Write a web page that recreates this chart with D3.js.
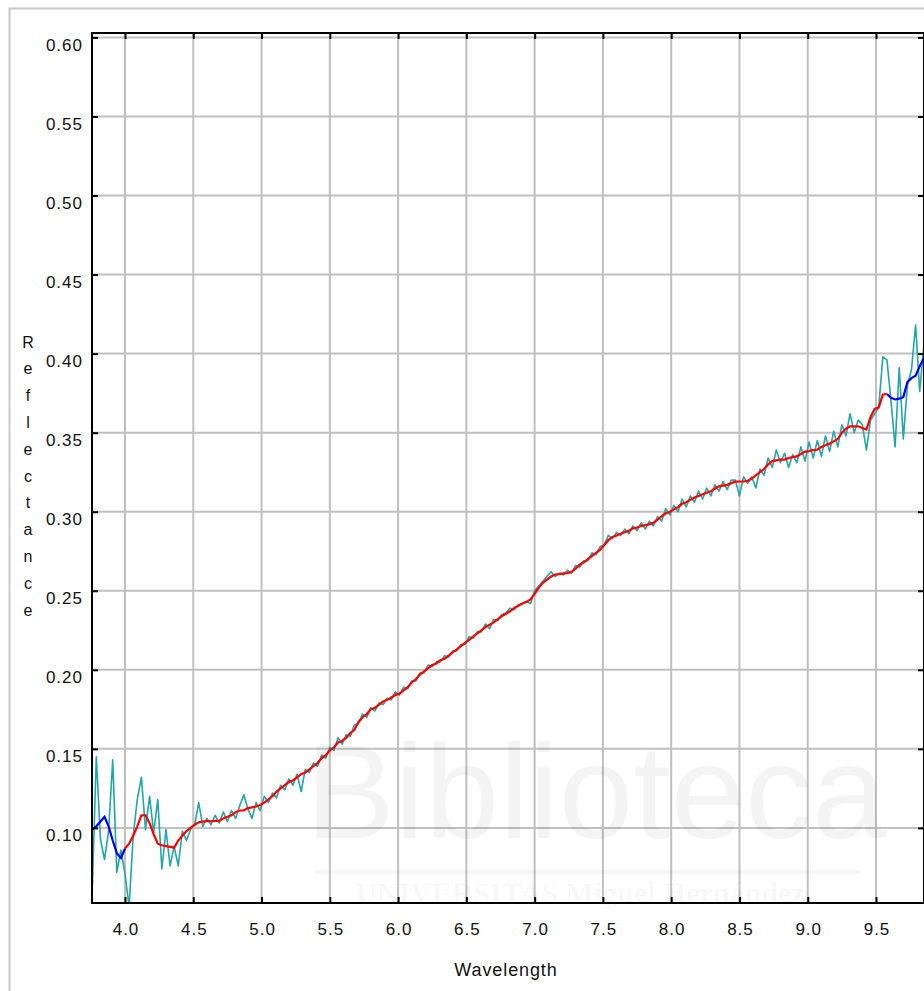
<!DOCTYPE html>
<html><head><meta charset="utf-8">
<script src="https://cdn.jsdelivr.net/npm/d3@7"></script>
<style>html,body{margin:0;padding:0;background:#fff;}svg{display:block;}</style>
</head><body>
<svg id="chart" width="924" height="991"></svg>
<script>
// ---------- data ----------
const wavelength = [3.76,3.79,3.82,3.85,3.88,3.91,3.94,3.97,4.00,4.03,4.06,4.09,4.12,4.15,4.18,4.21,4.24,4.27,4.30,4.33,4.36,4.39,4.42,4.45,4.48,4.51,4.54,4.57,4.60,4.63,4.66,4.69,4.72,4.75,4.78,4.81,4.84,4.87,4.90,4.93,4.96,4.99,5.02,5.05,5.08,5.11,5.14,5.17,5.20,5.23,5.26,5.29,5.32,5.35,5.38,5.41,5.44,5.47,5.50,5.53,5.56,5.59,5.62,5.65,5.68,5.71,5.74,5.77,5.80,5.83,5.86,5.89,5.92,5.95,5.98,6.01,6.04,6.07,6.10,6.13,6.16,6.19,6.22,6.25,6.28,6.31,6.34,6.37,6.40,6.43,6.46,6.49,6.52,6.55,6.58,6.61,6.64,6.67,6.70,6.73,6.76,6.79,6.82,6.85,6.88,6.91,6.94,6.97,7.00,7.03,7.06,7.09,7.12,7.15,7.18,7.21,7.24,7.27,7.30,7.33,7.36,7.39,7.42,7.45,7.48,7.51,7.54,7.57,7.60,7.63,7.66,7.69,7.72,7.75,7.78,7.81,7.84,7.87,7.90,7.93,7.96,7.99,8.02,8.05,8.08,8.11,8.14,8.17,8.20,8.23,8.26,8.29,8.32,8.35,8.38,8.41,8.44,8.47,8.50,8.53,8.56,8.59,8.62,8.65,8.68,8.71,8.74,8.77,8.80,8.83,8.86,8.89,8.92,8.95,8.98,9.01,9.04,9.07,9.10,9.13,9.16,9.19,9.22,9.25,9.28,9.31,9.34,9.37,9.40,9.43,9.46,9.49,9.52,9.55,9.58,9.61,9.64,9.67,9.70,9.73,9.76,9.79,9.82,9.85];

const rawReflectance = [0.060,0.145,0.093,0.080,0.098,0.143,0.072,0.086,0.071,0.050,
0.095,0.118,0.132,0.099,0.120,0.097,0.118,0.074,0.099,0.076,
0.088,0.076,0.098,0.092,0.099,0.102,0.116,0.101,0.106,0.102,
0.108,0.103,0.110,0.104,0.111,0.106,0.114,0.121,0.112,0.106,
0.116,0.111,0.120,0.116,0.122,0.119,0.127,0.124,0.131,0.127,
0.134,0.123,0.137,0.135,0.141,0.139,0.146,0.144,0.151,0.149,
0.157,0.153,0.159,0.158,0.165,0.166,0.172,0.170,0.176,0.174,
0.179,0.178,0.182,0.181,0.186,0.184,0.189,0.188,0.193,0.193,
0.198,0.198,0.203,0.202,0.205,0.205,0.209,0.208,0.212,0.212,
0.216,0.216,0.221,0.220,0.224,0.224,0.229,0.226,0.232,0.231,
0.235,0.236,0.239,0.238,0.241,0.242,0.243,0.242,0.250,0.253,
0.256,0.259,0.262,0.259,0.261,0.260,0.263,0.261,0.266,0.265,
0.269,0.269,0.274,0.273,0.278,0.279,0.285,0.283,0.287,0.285,
0.289,0.286,0.291,0.288,0.293,0.289,0.294,0.291,0.297,0.294,
0.302,0.298,0.304,0.300,0.308,0.303,0.310,0.306,0.313,0.308,
0.315,0.310,0.317,0.313,0.319,0.314,0.320,0.320,0.310,0.322,
0.318,0.322,0.315,0.327,0.323,0.334,0.328,0.339,0.331,0.337,
0.328,0.336,0.331,0.341,0.332,0.344,0.334,0.345,0.335,0.348,
0.338,0.351,0.341,0.355,0.348,0.362,0.350,0.358,0.355,0.339,
0.358,0.362,0.366,0.398,0.396,0.370,0.341,0.391,0.346,0.380,
0.390,0.418,0.376,0.405];

const smoothReflectance = [0.099,0.101,0.104,0.107,0.101,0.092,0.084,0.081,0.087,0.090,
0.095,0.101,0.108,0.108,0.103,0.096,0.090,0.089,0.0885,0.088,
0.0875,0.092,0.095,0.098,0.100,0.102,0.1035,0.104,0.1044,0.1042,
0.1045,0.1045,0.106,0.107,0.108,0.110,0.111,0.111,0.1125,0.113,
0.1135,0.1145,0.116,0.118,0.120,0.123,0.125,0.127,0.129,0.130,
0.132,0.134,0.135,0.137,0.139,0.141,0.144,0.146,0.149,0.151,
0.154,0.155,0.157,0.160,0.162,0.167,0.170,0.172,0.175,0.176,
0.178,0.180,0.181,0.1825,0.184,0.185,0.187,0.189,0.192,0.194,
0.197,0.199,0.201,0.203,0.204,0.206,0.207,0.209,0.211,0.213,
0.215,0.217,0.219,0.221,0.223,0.225,0.227,0.2285,0.230,0.232,
0.234,0.2355,0.237,0.239,0.2405,0.242,0.243,0.2445,0.248,0.252,
0.255,0.257,0.259,0.2603,0.2605,0.261,0.2612,0.262,0.264,0.2665,
0.268,0.270,0.272,0.274,0.276,0.279,0.282,0.284,0.285,0.286,
0.287,0.288,0.2895,0.290,0.291,0.2915,0.292,0.293,0.295,0.297,
0.299,0.300,0.3015,0.303,0.305,0.306,0.3075,0.309,0.310,0.311,
0.312,0.313,0.3145,0.316,0.3165,0.317,0.318,0.319,0.3191,0.3191,
0.3195,0.321,0.323,0.325,0.327,0.330,0.332,0.3325,0.333,0.333,
0.334,0.3345,0.335,0.3365,0.338,0.3383,0.339,0.3392,0.341,0.342,
0.343,0.3445,0.346,0.350,0.3525,0.354,0.354,0.354,0.353,0.352,
0.360,0.365,0.366,0.374,0.3745,0.372,0.371,0.3715,0.3725,0.382,
0.3845,0.386,0.392,0.397];

// edge segments drawn in blue, middle in red
const blueStartEnd = 4.00;   // first blue segment ends here
const blueTailStart = 9.58;  // second blue segment starts here

const xTicks = [4.0,4.5,5.0,5.5,6.0,6.5,7.0,7.5,8.0,8.5,9.0,9.5];
const yTicks = [0.10,0.15,0.20,0.25,0.30,0.35,0.40,0.45,0.50,0.55,0.60];
const xDomain = [3.7583, 9.8515];
const yDomain = [0.0525, 0.6028];
const xTitle = "Wavelength";
const yTitle = "Reflectance";

// ---------- layout ----------
const svg = d3.select("#chart");
const L = 92, T = 33, R = 924, B = 903;
const x = d3.scaleLinear().domain(xDomain).range([L, R]);
const y = d3.scaleLinear().domain(yDomain).range([B, T]);
const font = "'Liberation Sans', Arial, sans-serif";

// outer frame
svg.append("rect").attr("x",9.5).attr("y",8.5).attr("width",940).attr("height",1000)
  .attr("fill","none").attr("stroke","#c8c8c8").attr("stroke-width",2);

// grid
const grid = svg.append("g");
grid.selectAll("line.v").data(xTicks).join("line")
  .attr("x1",d=>x(d)).attr("x2",d=>x(d)).attr("y1",T).attr("y2",B)
  .attr("stroke","#c0c0c0").attr("stroke-width",2);
grid.selectAll("line.h").data(yTicks).join("line")
  .attr("x1",L).attr("x2",R).attr("y1",d=>y(d)).attr("y2",d=>y(d))
  .attr("stroke","#c0c0c0").attr("stroke-width",2);

// clip
svg.append("clipPath").attr("id","plotclip").append("rect")
  .attr("x",L).attr("y",T).attr("width",R-L).attr("height",B-T);
const plot = svg.append("g").attr("clip-path","url(#plotclip)");

const raw = wavelength.map((w,i)=>({w, v: rawReflectance[i]}));
const smooth = wavelength.map((w,i)=>({w, v: smoothReflectance[i]}));
const line = d3.line().x(d=>x(d.w)).y(d=>y(d.v));

plot.append("path").datum(raw).attr("d",line)
  .attr("fill","none").attr("stroke","#1fa8a8").attr("stroke-width",1.6).attr("stroke-linejoin","round");

const seg1 = smooth.filter(d=>d.w<=blueStartEnd+1e-9);
const seg2 = smooth.filter(d=>d.w>=blueStartEnd-1e-9 && d.w<=blueTailStart+1e-9);
const seg3 = smooth.filter(d=>d.w>=blueTailStart-1e-9);
plot.append("path").datum(seg1).attr("d",line).attr("fill","none").attr("stroke","#0000ff").attr("stroke-width",2.2);
plot.append("path").datum(seg3).attr("d",line).attr("fill","none").attr("stroke","#0000ff").attr("stroke-width",2.2);
plot.append("path").datum(seg2).attr("d",line).attr("fill","none").attr("stroke","#ff0000").attr("stroke-width",2.2);

// axes frame (black)
const ax = svg.append("g").attr("stroke","#000").attr("stroke-width",2);
ax.append("line").attr("x1",L).attr("x2",R+2).attr("y1",T).attr("y2",T);
ax.append("line").attr("x1",L).attr("x2",R+2).attr("y1",B).attr("y2",B);
ax.append("line").attr("x1",L).attr("x2",L).attr("y1",T-1).attr("y2",B+1);
ax.append("line").attr("x1",R).attr("x2",R).attr("y1",T-1).attr("y2",B+1);

// ticks via d3 axes (inward)
const tickLen = 6;
const tickFont = 17, ls = 1.0;
const bottomAxis = d3.axisBottom(x).tickValues(xTicks).tickSize(-tickLen).tickFormat(d3.format(".1f"));
const gB = svg.append("g").attr("transform",`translate(0,${B})`).call(bottomAxis);
gB.select(".domain").remove();
gB.selectAll(".tick line").attr("stroke","#000").attr("stroke-width",2);
gB.selectAll(".tick text").attr("font-family",font).attr("font-size",tickFont).attr("letter-spacing",ls)
  .attr("fill","#111").attr("y",32).attr("dy",0).attr("x",ls/2);

const topAxis = d3.axisTop(x).tickValues(xTicks).tickSize(-tickLen).tickFormat("");
const gT = svg.append("g").attr("transform",`translate(0,${T})`).call(topAxis);
gT.select(".domain").remove();
gT.selectAll(".tick line").attr("stroke","#000").attr("stroke-width",2);

const leftAxis = d3.axisLeft(y).tickValues(yTicks).tickSize(-tickLen).tickFormat(d3.format(".2f"));
const gL = svg.append("g").attr("transform",`translate(${L},0)`).call(leftAxis);
gL.select(".domain").remove();
gL.selectAll(".tick line").attr("stroke","#000").attr("stroke-width",2);
gL.selectAll(".tick text").attr("font-family",font).attr("font-size",tickFont).attr("letter-spacing",ls)
  .attr("fill","#111").attr("x",-10+ls).attr("y",13).attr("dy",0);

const rightAxis = d3.axisRight(y).tickValues(yTicks).tickSize(-tickLen).tickFormat("");
const gR = svg.append("g").attr("transform",`translate(${R},0)`).call(rightAxis);
gR.select(".domain").remove();
gR.selectAll(".tick line").attr("stroke","#000").attr("stroke-width",2);

// titles
svg.append("text").attr("x",506).attr("y",976).attr("text-anchor","middle")
  .attr("font-family",font).attr("font-size",18).attr("letter-spacing",0.9).attr("fill","#111").text(xTitle);
const yt = svg.append("text").attr("font-family",font).attr("font-size",16).attr("fill","#111").attr("text-anchor","middle");
yTitle.split("").forEach((ch,i)=>{
  yt.append("tspan").attr("x",28).attr("y",347.5 + i*26.8).text(ch);
});

// faint watermark
const wm = svg.append("g").attr("pointer-events","none");
wm.append("text").attr("x",596).attr("y",838).attr("text-anchor","middle")
  .attr("font-family",font).attr("font-size",134).attr("fill","#000").attr("fill-opacity",0.045).text("Biblioteca");
wm.append("rect").attr("x",315).attr("y",870).attr("width",545).attr("height",4).attr("fill","#000").attr("fill-opacity",0.035);
wm.append("text").attr("x",580).attr("y",903).attr("text-anchor","middle")
  .attr("font-family","'Liberation Serif', serif").attr("font-weight","bold").attr("font-size",30)
  .attr("fill","#000").attr("fill-opacity",0.035).text("UNIVERSITAS Miguel Hernández");
</script>
</body></html>
